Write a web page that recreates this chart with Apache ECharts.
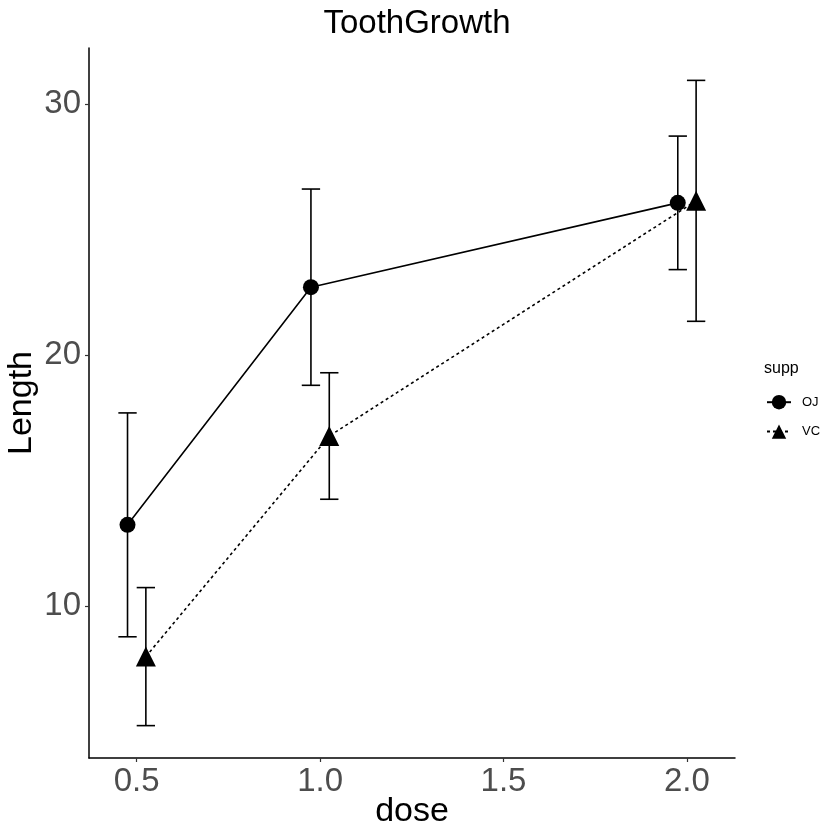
<!DOCTYPE html>
<html><head><meta charset="utf-8">
<script src="https://cdn.jsdelivr.net/npm/echarts@6/dist/echarts.min.js"></script>
<style>html,body{margin:0;padding:0;background:#fff}#c{width:840px;height:840px}</style>
</head><body><div id="c"></div>
<script>
const doses = [0.5, 1.0, 2.0];
const ojMean = [13.23, 22.70, 26.06];
const ojSd = [4.46, 3.91, 2.66];
const vcMean = [7.98, 16.77, 26.14];
const vcSd = [2.75, 2.52, 4.80];
const xTicks = [0.5, 1.0, 1.5, 2.0];
const yTicks = [10, 20, 30];
const dodge = 0.025;
const capHalf = 0.025;

const FONT = '"Liberation Sans", Arial, sans-serif';
const ojPts = doses.map((d, i) => [d - dodge, ojMean[i]]);
const vcPts = doses.map((d, i) => [d + dodge, vcMean[i]]);
const errData = [];
doses.forEach((d, i) => errData.push([d - dodge, ojMean[i] - ojSd[i], ojMean[i] + ojSd[i]]));
doses.forEach((d, i) => errData.push([d + dodge, vcMean[i] - vcSd[i], vcMean[i] + vcSd[i]]));

const chart = echarts.init(document.getElementById('c'));
chart.setOption({
  animation: false,
  backgroundColor: '#fff',
  textStyle: { fontFamily: FONT },
  title: { text: 'ToothGrowth', left: 412, top: 2, textAlign: 'center',
    textStyle: { fontFamily: FONT, fontSize: 33, fontWeight: 'normal', color: '#000' } },
  grid: { left: 89, right: 105, top: 48, bottom: 82, containLabel: false, outerBoundsMode: 'none' },
  xAxis: {
    type: 'value', min: 0.370, max: 2.131,
    name: 'dose', nameLocation: 'middle', nameGap: 54, nameMoveOverlap: false,
    nameTextStyle: { fontFamily: FONT, fontSize: 34, color: '#000', verticalAlign: 'middle' },
    axisLine: { show: true, onZero: false, lineStyle: { color: '#000', width: 1.5 } },
    axisTick: { show: true, length: 4, customValues: xTicks, lineStyle: { color: '#333', width: 1.2 } },
    axisLabel: { customValues: xTicks, fontSize: 33, color: '#4d4d4d', margin: 7, fontFamily: FONT,
      formatter: v => v.toFixed(1) },
    splitLine: { show: false }
  },
  yAxis: {
    type: 'value', min: 3.94, max: 32.23,
    name: 'Length', nameLocation: 'middle', nameGap: 67, nameRotate: 90, nameMoveOverlap: false,
    nameTextStyle: { fontFamily: FONT, fontSize: 34, color: '#000', verticalAlign: 'middle' },
    axisLine: { show: true, onZero: false, lineStyle: { color: '#000', width: 1.5 } },
    axisTick: { show: true, length: 4, customValues: yTicks, lineStyle: { color: '#333', width: 1.2 } },
    axisLabel: { customValues: yTicks, fontSize: 33, color: '#4d4d4d', margin: 8, fontFamily: FONT },
    splitLine: { show: false }
  },
  legend: {
    orient: 'vertical', left: 761, top: 390, itemWidth: 24, itemHeight: 18, itemGap: 15,
    data: ['OJ', 'VC'],
    textStyle: { fontFamily: FONT, fontSize: 13, color: '#000', padding: [0, 0, 0, 6] }
  },
  graphic: [{ type: 'text', left: 764, top: 361,
    style: { text: 'supp', font: '16px ' + FONT, fill: '#000' } }],
  series: [
    {
      type: 'custom', name: 'err', z: 1, silent: true,
      data: errData,
      renderItem: function (params, api) {
        const x = api.value(0), lo = api.value(1), hi = api.value(2);
        const pLo = api.coord([x, lo]), pHi = api.coord([x, hi]);
        const l = api.coord([x - capHalf, lo])[0], r = api.coord([x + capHalf, lo])[0];
        const st = { stroke: '#000', lineWidth: 1.6 };
        return { type: 'group', children: [
          { type: 'line', shape: { x1: pLo[0], y1: pLo[1], x2: pHi[0], y2: pHi[1] }, style: st },
          { type: 'line', shape: { x1: l, y1: pLo[1], x2: r, y2: pLo[1] }, style: st },
          { type: 'line', shape: { x1: l, y1: pHi[1], x2: r, y2: pHi[1] }, style: st }
        ]};
      }
    },
    {
      name: 'OJ', type: 'line', z: 3, data: ojPts,
      symbol: 'circle', symbolSize: 16,
      lineStyle: { color: '#000', width: 1.6, type: 'solid' },
      itemStyle: { color: '#000' }
    },
    {
      name: 'VC', type: 'line', z: 3, data: vcPts,
      symbol: 'triangle', symbolSize: 20,
      lineStyle: { color: '#000', width: 1.6, type: [3, 3] },
      itemStyle: { color: '#000' }
    }
  ]
});
</script></body></html>
